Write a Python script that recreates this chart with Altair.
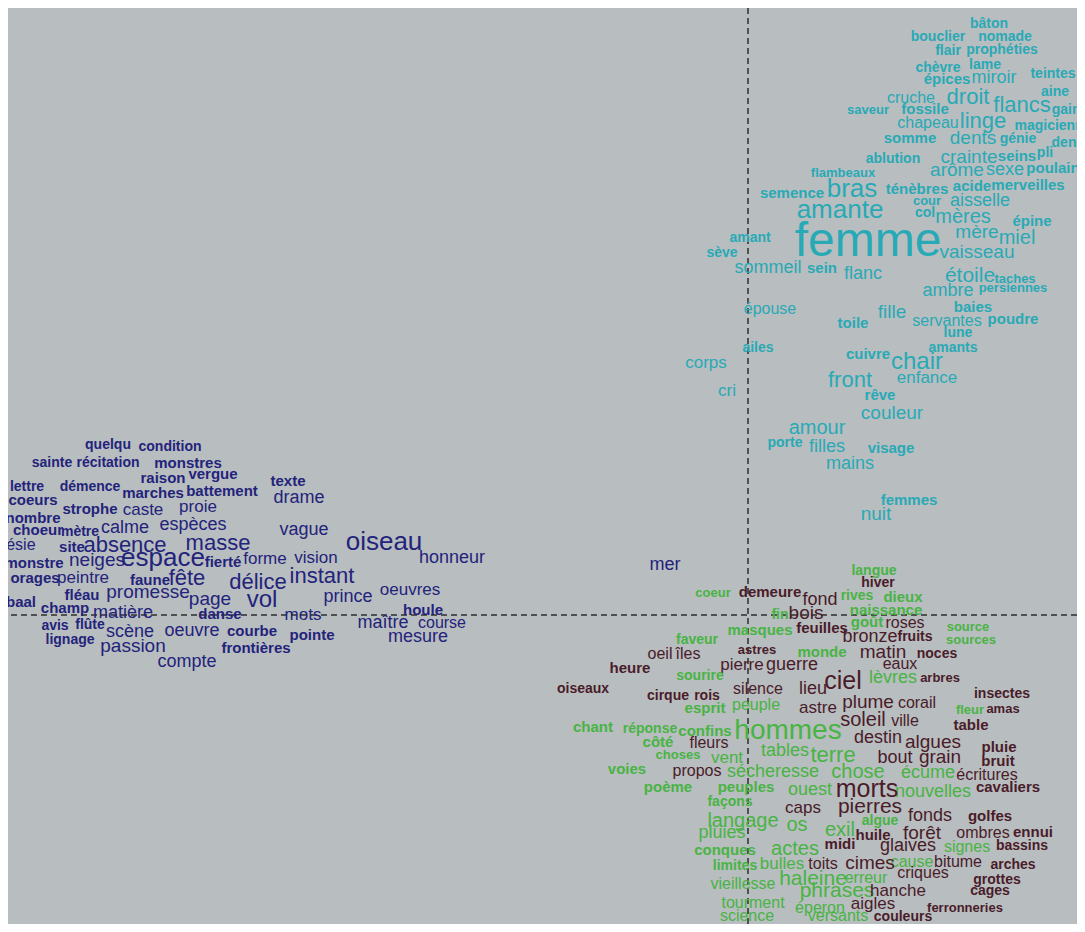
import altair as alt
import pandas as pd

# ---- cluster A (teal) ----
a_words = ["bâton","bouclier","nomade","flair","prophéties","chèvre","lame","épices","miroir","teintes",
           "aine","cruche","droit","flancs","gaine","saveur","fossile","chapeau","linge","magicienne",
           "somme","dents","génie","pli","dentelle","ablution","crainte","seins","poulain","arôme",
           "sexe","flambeaux","semence","bras","ténèbres","acide","merveilles","cour","aisselle","amante",
           "col","mères","épine","amant","mère","miel","femme","vaisseau","sève","sommeil",
           "sein","flanc","étoile","taches","ambre","persiennes","épouse","baies","fille","toile",
           "servantes","poudre","lune","ailes","amants","cuivre","corps","chair","front","enfance",
           "cri","rêve","couleur","amour","porte","filles","visage","mains","femmes","nuit"]
a_x = [2.41,1.90,2.57,2.00,2.54,1.90,2.37,1.99,2.46,3.05,
       3.07,1.63,2.20,2.74,3.22,1.20,1.77,1.80,2.35,3.05,
       1.62,2.25,2.70,2.97,3.30,1.45,2.21,2.69,3.05,2.09,
       2.57,0.95,0.44,1.04,1.69,2.24,2.80,1.79,2.32,0.92,
       1.77,2.15,2.84,0.02,2.29,2.69,1.20,2.29,-0.26,0.20,
       0.74,1.15,2.22,2.67,2.00,2.65,0.22,2.25,1.44,1.05,
       1.99,2.65,2.10,0.10,2.05,1.20,-0.42,1.69,1.02,1.79,
       -0.21,1.32,1.44,0.69,0.37,0.79,1.43,1.02,1.61,1.28]
a_y = [5.91,5.78,5.78,5.64,5.65,5.47,5.50,5.36,5.37,5.41,
       5.23,5.17,5.18,5.10,5.05,5.05,5.06,4.92,4.94,4.89,
       4.77,4.77,4.76,4.62,4.72,4.56,4.58,4.59,4.47,4.45,
       4.45,4.42,4.22,4.26,4.26,4.29,4.30,4.14,4.14,4.05,
       4.02,3.98,3.94,3.77,3.83,3.77,3.73,3.63,3.62,3.47,
       3.47,3.41,3.39,3.36,3.24,3.27,3.06,3.08,3.03,2.92,
       2.94,2.96,2.82,2.67,2.67,2.61,2.52,2.53,2.35,2.37,
       2.24,2.20,2.02,1.87,1.72,1.68,1.67,1.51,1.15,1.01]
a_n = [14,14,14,14,14,14,14,15,18,14,
       14,16,22,22,14,13,15,16,22,14,
       15,19,14,14,14,14,19,15,15,19,
       18,13,15,26,15,15,15,13,18,26,
       14,20,15,14,19,20,48,19,14,18,
       15,18,21,13,18,13,16,15,19,15,
       16,15,14,14,14,15,17,24,22,17,
       17,15,19,20,14,18,15,18,15,19]

# ---- cluster B (navy) ----
b_words = ["quelqu","condition","sainte","récitation","monstres","raison","vergue","lettre","démence","marches",
           "battement","texte","coeurs","strophe","caste","proie","drame","nombre","choeur","mètre",
           "calme","espèces","vague","poésie","site","absence","masse","oiseau","monstre","neiges",
           "espace","fierté","forme","vision","honneur","orages","peintre","faune","fête","délice",
           "instant","mer","baal","fléau","promesse","page","vol","prince","oeuvres","champ",
           "houle","matière","danse","mots","maître","course","avis","flûte","scène","oeuvre",
           "courbe","pointe","mesure","lignage","passion","frontières","compte"]
b_x = [-6.40,-5.78,-6.96,-6.40,-5.60,-5.85,-5.35,-7.21,-6.58,-5.95,
       -5.26,-4.60,-7.15,-6.58,-6.05,-5.50,-4.49,-7.15,-7.10,-6.68,
       -6.23,-5.55,-4.44,-7.36,-6.76,-6.23,-5.30,-3.64,-7.14,-6.51,
       -5.85,-5.25,-4.83,-4.32,-2.96,-7.13,-6.65,-5.98,-5.61,-4.90,
       -4.26,-0.83,-7.27,-6.66,-6.00,-5.38,-4.86,-4.00,-3.38,-6.83,
       -3.25,-6.25,-5.28,-4.45,-3.65,-3.06,-6.93,-6.58,-6.18,-5.56,
       -4.96,-4.36,-3.30,-6.78,-6.15,-4.92,-5.61]
b_y = [1.70,1.68,1.52,1.52,1.52,1.37,1.41,1.28,1.28,1.22,
       1.24,1.34,1.15,1.06,1.05,1.08,1.17,0.97,0.85,0.83,
       0.87,0.90,0.85,0.70,0.68,0.70,0.72,0.73,0.52,0.55,
       0.57,0.53,0.56,0.57,0.57,0.37,0.37,0.35,0.37,0.33,
       0.39,0.50,0.13,0.20,0.23,0.16,0.15,0.18,0.25,0.07,
       0.05,0.02,0.01,0.00,-0.08,-0.08,-0.11,-0.10,-0.17,-0.16,
       -0.16,-0.20,-0.22,-0.25,-0.31,-0.33,-0.47]
b_n = [14,14,14,14,15,15,15,14,14,15,
       15,15,15,15,17,17,18,15,15,14,
       18,18,18,16,15,22,22,26,15,19,
       26,15,17,17,18,15,17,15,22,22,
       22,18,15,15,19,19,24,18,17,15,
       15,18,15,17,18,16,14,14,18,18,
       15,15,18,14,19,15,18]

# ---- cluster C (green) ----
c_words = ["langue","coeur","rives","dieux","naissance","fin","goût","source","masques","sources",
           "faveur","monde","sourire","lèvres","esprit","peuple","fleur","chant","réponse","confins",
           "hommes","côté","choses","vent","tables","terre","voies","sécheresse","chose","écume",
           "poème","peuples","ouest","nouvelles","façons","langage","algue","os","exil","pluies",
           "signes","conques","actes","limites","bulles","cause","haleine","erreur","vieillesse","phrases",
           "tourment","éperon","science","versants"]
c_x = [1.26,-0.35,1.09,1.55,1.38,0.32,1.19,2.20,0.12,2.23,
       -0.51,0.74,-0.48,1.45,-0.43,0.08,2.22,-1.55,-0.98,-0.43,
       0.40,-0.90,-0.70,-0.21,0.37,0.85,-1.21,0.25,1.10,1.80,
       -0.80,-0.02,0.62,1.85,-0.18,-0.05,1.32,0.49,0.92,-0.26,
       2.19,-0.23,0.47,-0.13,0.34,1.64,0.65,1.18,-0.05,0.89,
       0.05,0.72,-0.01,0.90]
c_y = [0.44,0.22,0.19,0.18,0.05,0.00,-0.07,-0.12,-0.15,-0.25,
       -0.25,-0.37,-0.61,-0.63,-0.93,-0.90,-0.95,-1.12,-1.14,-1.16,
       -1.16,-1.27,-1.40,-1.43,-1.36,-1.40,-1.54,-1.57,-1.57,-1.58,
       -1.72,-1.72,-1.75,-1.77,-1.87,-2.06,-2.06,-2.10,-2.15,-2.18,
       -2.32,-2.35,-2.34,-2.51,-2.49,-2.47,-2.64,-2.63,-2.69,-2.76,
       -2.88,-2.93,-3.01,-3.01]
c_n = [14,13,14,15,15,14,15,13,15,13,
       14,15,14,18,15,16,13,15,14,15,
       28,15,13,17,18,22,15,18,20,18,
       15,15,18,18,14,20,14,20,20,18,
       16,15,20,14,17,16,21,16,16,21,
       16,16,16,16]

# ---- cluster D (dark red) ----
d_words = ["hiver","demeure","fond","bois","roses","feuilles","bronze","fruits","astres","matin",
           "oeil","îles","noces","eaux","pierre","guerre","heure","arbres","ciel","oiseaux",
           "silence","lieu","insectes","cirque","rois","plume","corail","astre","amas","soleil",
           "ville","table","destin","algues","fleurs","pluie","bout","grain","bruit","propos",
           "écritures","cavaliers","morts","caps","pierres","fonds","golfes","forêt","ombres","ennui",
           "huile","midi","glaives","bassins","toits","cimes","bitume","arches","criques","grottes",
           "cages","hanche","aigles","ferronneries","couleurs"]
d_x = [1.30,0.22,0.72,0.58,1.57,0.74,1.22,1.67,0.09,1.35,
       -0.88,-0.60,1.89,1.52,-0.06,0.44,-1.18,1.92,0.95,-1.65,
       0.10,0.65,2.54,-0.80,-0.41,1.20,1.69,0.70,2.55,1.15,
       1.57,2.23,1.30,1.85,-0.39,2.51,1.47,1.92,2.50,-0.51,
       2.39,2.60,1.19,0.55,1.22,1.82,2.42,1.74,2.35,2.85,
       1.25,0.92,1.60,2.74,0.75,1.22,2.10,2.65,1.75,2.49,
       2.42,1.50,1.25,2.17,1.55]
d_y = [0.32,0.23,0.15,0.02,-0.08,-0.13,-0.22,-0.22,-0.35,-0.37,
       -0.39,-0.39,-0.39,-0.49,-0.50,-0.50,-0.53,-0.63,-0.66,-0.74,
       -0.74,-0.74,-0.79,-0.81,-0.81,-0.87,-0.88,-0.93,-0.94,-1.05,
       -1.06,-1.10,-1.23,-1.27,-1.28,-1.32,-1.43,-1.42,-1.46,-1.56,
       -1.60,-1.72,-1.74,-1.93,-1.92,-2.01,-2.01,-2.18,-2.18,-2.17,
       -2.20,-2.29,-2.31,-2.31,-2.49,-2.48,-2.47,-2.50,-2.58,-2.65,
       -2.76,-2.76,-2.89,-2.93,-3.02]
d_n = [14,15,18,19,16,15,18,14,13,19,
       16,16,14,16,17,18,15,13,25,14,
       16,18,14,14,14,19,16,17,13,20,
       16,15,18,19,16,15,18,19,15,16,
       16,15,25,17,21,18,15,19,16,15,
       15,15,18,14,16,19,16,14,16,14,
       14,17,17,13,14]

groups = ["teal", "navy", "green", "darkred"]
colors = ["#28aab6", "#23237c", "#48b444", "#4a1c2a"]

frames = []
for g, w, xs, ys, ns in [(groups[0], a_words, a_x, a_y, a_n),
                         (groups[1], b_words, b_x, b_y, b_n),
                         (groups[2], c_words, c_x, c_y, c_n),
                         (groups[3], d_words, d_x, d_y, d_n)]:
    frames.append(pd.DataFrame({"word": w, "x": xs, "y": ys, "n": ns, "group": g}))
df = pd.concat(frames, ignore_index=True)

xscale = alt.Scale(domain=[-7.40, 3.29], nice=False, zero=False)
yscale = alt.Scale(domain=[-3.09, 6.07], nice=False, zero=False)

def words_layer(weight, cond):
    return alt.Chart(df).transform_filter(cond).mark_text(
        font="Liberation Sans", fontWeight=weight, align="center", baseline="middle", clip=True
    ).encode(
        x=alt.X("x:Q", scale=xscale, axis=None),
        y=alt.Y("y:Q", scale=yscale, axis=None),
        text="word:N",
        color=alt.Color("group:N", scale=alt.Scale(domain=groups, range=colors), legend=None),
        size=alt.Size("n:Q", scale=alt.Scale(type="linear", domain=[10, 50], range=[10, 50]), legend=None),
    )

small = words_layer("bold", "datum.n <= 15")
large = words_layer("normal", "datum.n > 15")

vrule = alt.Chart(pd.DataFrame({"x": [0.0]})).mark_rule(
    color="#2e2e2e", strokeDash=[6, 4], strokeWidth=1.5
).encode(x=alt.X("x:Q", scale=xscale, axis=None))
hrule = alt.Chart(pd.DataFrame({"y": [0.0]})).mark_rule(
    color="#2e2e2e", strokeDash=[6, 4], strokeWidth=1.5
).encode(y=alt.Y("y:Q", scale=yscale, axis=None))

chart = alt.layer(vrule, hrule, large, small).properties(
    width=1069, height=916, padding=0, autosize="none", background="#b8bdbf"
).configure_view(stroke=None)

chart.save("out.html", embed_options={"renderer": "svg", "actions": False})
